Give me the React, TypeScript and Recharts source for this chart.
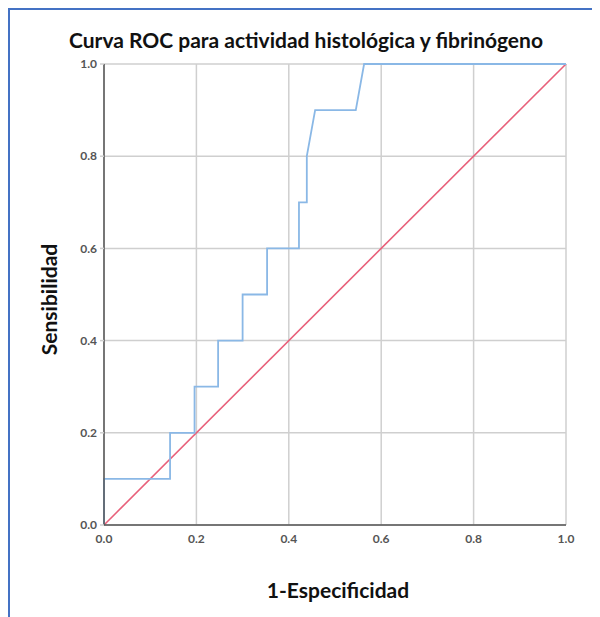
import React from 'react'
import {
  CartesianGrid,
  Line,
  LineChart,
  XAxis,
  YAxis,
} from 'recharts'

// ROC curve points (1-Especificidad, Sensibilidad)
const fpr = [0, 0, 0.143, 0.143, 0.196, 0.196, 0.247, 0.247, 0.3, 0.3, 0.353, 0.353, 0.422, 0.422, 0.439, 0.439, 0.457, 0.545, 0.563, 1]
const tpr = [0, 0.1, 0.1, 0.2, 0.2, 0.3, 0.3, 0.4, 0.4, 0.5, 0.5, 0.6, 0.6, 0.7, 0.7, 0.8, 0.9, 0.9, 1, 1]

// reference diagonal
const diagX = [0, 1]
const diagY = [0, 1]

const ticks = [0, 0.2, 0.4, 0.6, 0.8, 1]

const rocData = fpr.map((x, i) => ({ x, y: tpr[i] }))
const diagData = diagX.map((x, i) => ({ x, y: diagY[i] }))

const FONT = 'Lato, "Open Sans", sans-serif'

export default function App() {
  const W = 592
  const H = 609
  return (
    <div
      style={{
        position: 'relative',
        width: W,
        height: H,
        borderTop: '2px solid #4472c4',
        borderLeft: '2px solid #4472c4',
        boxSizing: 'border-box',
        fontFamily: FONT,
      }}
    >
      <div
        style={{
          position: 'absolute',
          left: 0,
          top: 17,
          width: W,
          textAlign: 'center',
          fontSize: 21,
          fontWeight: 700,
          color: '#111',
        }}
      >
        Curva ROC para actividad histológica y fibrinógeno
      </div>
      <div
        style={{
          position: 'absolute',
          left: 38 - 100,
          top: 290 - 13,
          width: 200,
          textAlign: 'center',
          fontSize: 21,
          fontWeight: 700,
          color: '#111',
          transform: 'rotate(-90deg)',
        }}
      >
        Sensibilidad
      </div>
      <div
        style={{
          position: 'absolute',
          left: 328 - 150,
          top: 567,
          width: 300,
          textAlign: 'center',
          fontSize: 21,
          fontWeight: 700,
          color: '#111',
        }}
      >
        1-Especificidad
      </div>
      <div style={{ position: 'absolute', left: -2, top: -2 }}>
        <LineChart
          width={W}
          height={H}
          margin={{ top: 56, right: 34, bottom: 62, left: 56 }}
        >
          <CartesianGrid stroke="#cfcfcf" strokeWidth={1.5} />
          <XAxis
            type="number"
            dataKey="x"
            domain={[0, 1]}
            ticks={ticks}
            tickFormatter={(v: number) => v.toFixed(1)}
            stroke="#555"
            strokeWidth={1.5}
            tickLine={false}
            tick={{ fontSize: 12, fill: '#555', fontFamily: FONT, fontWeight: 700 }}
            tickMargin={3}
            height={30}
            allowDuplicatedCategory={false}
          />
          <YAxis
            type="number"
            dataKey="y"
            domain={[0, 1]}
            ticks={ticks}
            tickFormatter={(v: number) => v.toFixed(1)}
            stroke="#555"
            strokeWidth={1.5}
            tickSize={4}
            tickLine={{ stroke: '#cfcfcf' }}
            tick={{ fontSize: 12, fill: '#555', fontFamily: FONT, fontWeight: 700 }}
            tickMargin={3}
            width={40}
          />
          <Line
            data={diagData}
            dataKey="y"
            type="linear"
            stroke="#e8607a"
            strokeWidth={1.6}
            dot={false}
            isAnimationActive={false}
          />
          <Line
            data={rocData}
            dataKey="y"
            type="linear"
            stroke="#8ab8e6"
            strokeWidth={1.8}
            dot={false}
            isAnimationActive={false}
          />
        </LineChart>
      </div>
    </div>
  )
}
